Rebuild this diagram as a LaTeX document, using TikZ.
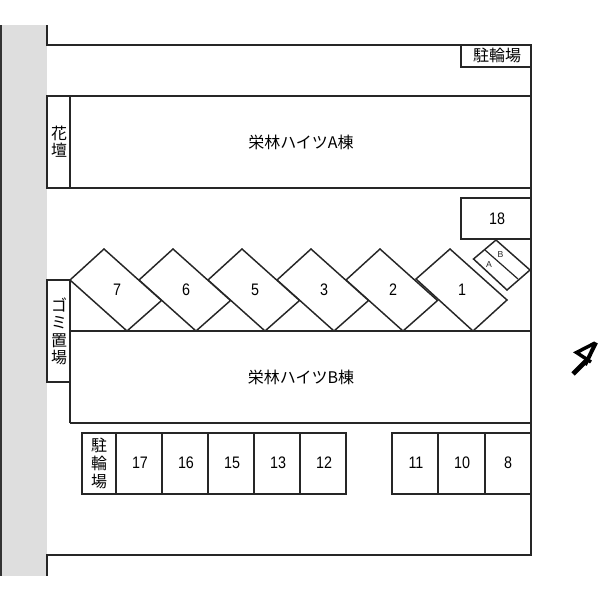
\documentclass[tikz,border=0pt]{standalone}
\usepackage{fontspec}
\setmainfont{Liberation Sans}
\newfontfamily\cjk{Noto Sans CJK JP}
\newfontfamily\numfont[FakeStretch=0.86]{Liberation Sans}
\tikzset{
  ln/.style={draw=black!85,line width=1.1pt,line join=miter},
  lot/.style={ln,fill=white},
  num/.style={font=\numfont\fontsize{12.5pt}{13pt}\selectfont,inner sep=0pt},
  lab/.style={font=\cjk\fontsize{12pt}{13pt}\selectfont,inner sep=0pt},
  vlab/.style={lab,align=center},
  tiny/.style={font=\fontsize{6.5pt}{7pt}\selectfont,inner sep=0pt,text=black!85}
}
\begin{document}
\begin{tikzpicture}[x=0.75pt,y=-0.75pt]
\useasboundingbox (0,0) rectangle (600,600);
\fill[black!13] (1,25) rectangle (47,576);
\draw[black!80,line width=0.8pt] (1,25) -- (1,576);
% site outline
\draw[ln] (47,25) -- (47,45) -- (531,45) -- (531,555) -- (47,555) -- (47,576);
\draw[lot] (461,45) rectangle (531,67);
\node[lab] (bikeA) at (497,55.5) {駐輪場};
% building A
\draw[ln] (47,96) rectangle (70,188);
\draw[ln] (70,96) -- (531,96) (70,188) -- (531,188);
\node[vlab,font=\cjk\fontsize{12pt}{13pt}\selectfont] (kadan) at (59,142) {花\\壇};
\node[lab] (bldA) at (301,142) {栄林ハイツA棟};
% lot 18
\draw[ln] (531,198) -- (461,198) -- (461,239) -- (531,239);
\node[num] (n18) at (497,219) {18};
% diamonds
\foreach \x/\t in {380/2,311/3,242/5,173/6,104/7}{
  \draw[lot] (\x,249) -- (\x+57.5,300.5) -- (\x+23,331) -- (\x-34,280) -- cycle;
  \node[num] at (\x+13,290) {\t};
}
\draw[lot] (450,249) -- (507,300) -- (473,331) -- (416,279) -- cycle;
\node[num] (n1) at (462,290) {1};
% AB
\draw[lot] (496,240) -- (530,270) -- (507,290) -- (473.5,259) -- cycle;
\draw[ln,line width=0.9pt] (485,250) -- (518,279);
\node[tiny] (la) at (489,265) {A};
\node[tiny] (lb) at (500.5,255) {B};
% building B
\draw[lot] (47,280) rectangle (70,382);
\draw[ln] (70,423) -- (70,331) -- (531,331);
\draw[ln] (70,423) -- (531,423);
\node[vlab,font=\cjk\fontsize{12pt}{13.1pt}\selectfont] (gomi) at (59,331.5) {ゴ\\ミ\\置\\場};
\node[lab] (bldB) at (301,377) {栄林ハイツB棟};
% lower row
\draw[ln] (82,433) rectangle (346,494);
\foreach \x in {116,162,208,254,300} \draw[ln] (\x,433) -- (\x,494);
\node[vlab,font=\cjk\fontsize{12pt}{13.5pt}\selectfont] (bikeB) at (99,463) {駐\\輪\\場};
\foreach \x/\t in {140/17,186/16,232/15,278/13,324/12} \node[num] at (\x,463) {\t};
\draw[ln] (531,433) -- (392,433) -- (392,494) -- (531,494);
\foreach \x in {438,485} \draw[ln] (\x,433) -- (\x,494);
\foreach \x/\t in {416/11,462/10,508/8} \node[num] at (\x,463) {\t};
% north arrow
\draw[black,line width=2.6pt,line join=miter] (595,343) -- (576.5,352.5) -- (591,362);
\draw[black,line width=3pt] (596,342.5) -- (585,365);
\draw[black,line width=3.6pt] (587,360) -- (573,374);
\end{tikzpicture}
\end{document}
